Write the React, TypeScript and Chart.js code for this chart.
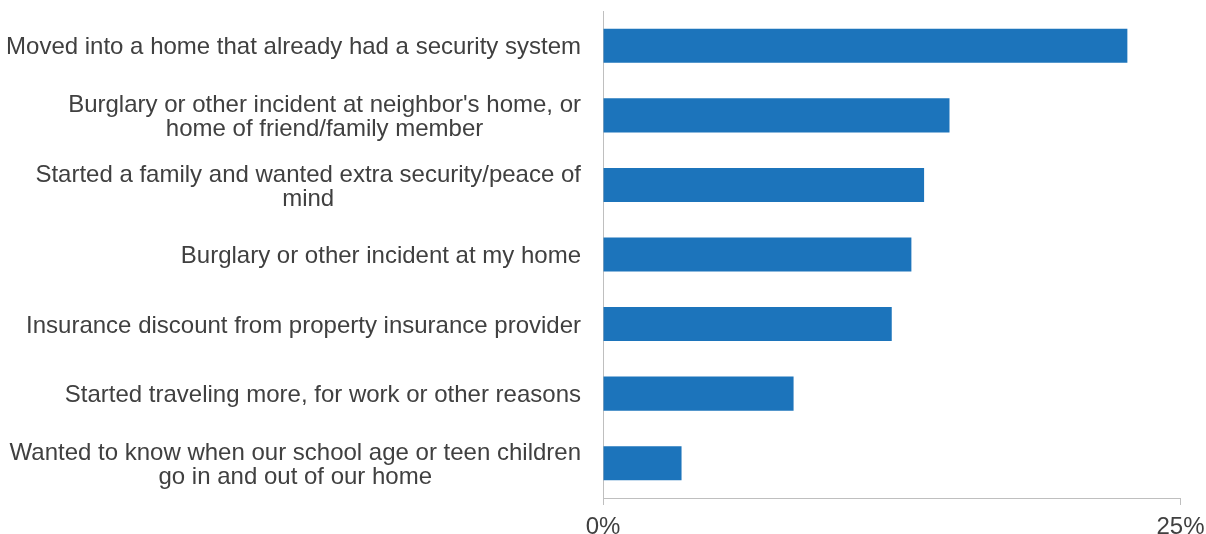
import React, { useEffect, useRef } from "react";
import { Chart, registerables } from "chart.js";

Chart.register(...registerables);

const categories: (string | string[])[] = [
  "Moved into a home that already had a security system",
  ["Burglary or other incident at neighbor's home, or", "home of friend/family member"],
  ["Started a family and wanted extra security/peace of", "mind"],
  "Burglary or other incident at my home",
  "Insurance discount from property insurance provider",
  "Started traveling more, for work or other reasons",
  ["Wanted to know when our school age or teen children", "go in and out of our home"],
];

const values: number[] = [22.7, 15.0, 13.9, 13.35, 12.5, 8.25, 3.4];

const xTickValues: number[] = [0, 25];

const FONT = "'Liberation Sans', Arial, sans-serif";
const TEXT_COLOR = "#404040";
const LABEL_SIZE = 24;
const LINE_HEIGHT = 24;
const LABEL_GAP = 22;

// Draw y category labels: block right-aligned to the axis, lines centred within the block
const centeredLabelsPlugin = {
  id: "centeredLabels",
  afterDraw(chart: any) {
    const scale = chart.scales.y;
    const ctx = chart.ctx;
    ctx.save();
    ctx.font = `${LABEL_SIZE}px ${FONT}`;
    ctx.fillStyle = TEXT_COLOR;
    ctx.textAlign = "center";
    ctx.textBaseline = "middle";
    const right = scale.right - LABEL_GAP;
    scale.ticks.forEach((_t: any, i: number) => {
      const lbl = chart.data.labels[i];
      const lines: string[] = Array.isArray(lbl) ? lbl : [lbl];
      const w = Math.max(...lines.map((l) => ctx.measureText(l).width));
      const cx = right - w / 2;
      const cy = scale.getPixelForTick(i) + 2;
      const startY = cy - ((lines.length - 1) * LINE_HEIGHT) / 2;
      lines.forEach((l, j) => ctx.fillText(l, cx, startY + j * LINE_HEIGHT));
    });
    ctx.restore();
  },
};

export default function App() {
  const ref = useRef<HTMLCanvasElement | null>(null);

  useEffect(() => {
    if (!ref.current) return;
    const chart = new Chart(ref.current, {
      type: "bar",
      data: {
        labels: categories,
        datasets: [
          {
            data: values,
            backgroundColor: "#1c74bb",
            borderWidth: 0,
            barPercentage: 0.49,
            categoryPercentage: 1,
          },
        ],
      },
      plugins: [centeredLabelsPlugin],
      options: {
        indexAxis: "y",
        animation: false,
        responsive: true,
        maintainAspectRatio: false,
        layout: { padding: { top: 11, right: 0, left: 0, bottom: 0 } },
        plugins: {
          legend: { display: false },
          tooltip: { enabled: false },
        },
        scales: {
          x: {
            type: "linear",
            min: 0,
            max: 25,
            afterBuildTicks: (scale: any) => {
              scale.ticks = xTickValues.map((v) => ({ value: v }));
            },
            afterFit: (scale: any) => {
              scale.height = 36;
              scale.paddingLeft = 0;
              scale.paddingRight = 25.5;
            },
            grid: {
              display: true,
              drawOnChartArea: false,
              drawTicks: true,
              tickLength: 7,
              color: "#bfbfbf",
            },
            border: { display: true, color: "#bfbfbf", width: 1 },
            ticks: {
              padding: 8,
              color: TEXT_COLOR,
              font: { family: FONT, size: 24 },
              callback: (v: any) => `${v}%`,
            },
          },
          y: {
            afterFit: (scale: any) => {
              scale.width = 603;
              scale.paddingTop = 0;
              scale.paddingBottom = 0;
            },
            grid: { display: false, drawTicks: false },
            border: { display: true, color: "#bfbfbf", width: 1 },
            ticks: {
              display: false,
              autoSkip: false,
            },
          },
        },
      },
    });
    return () => chart.destroy();
  }, []);

  return (
    <div style={{ position: "fixed", left: 0, top: 0, width: 1206, height: 534, background: "#fff" }}>
      <canvas ref={ref} />
    </div>
  );
}
